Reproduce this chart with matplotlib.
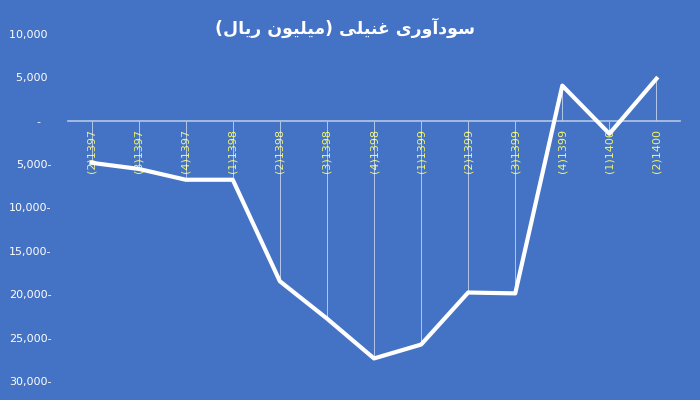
import matplotlib
matplotlib.use('Agg')
from matplotlib import pyplot as plt
from matplotlib.ticker import FuncFormatter
import numpy as np

quarters = ['(2)1397', '(3)1397', '(4)1397', '(1)1398', '(2)1398', '(3)1398', '(4)1398',
            '(1)1399', '(2)1399', '(3)1399', '(4)1399', '(1)1400', '(2)1400']
profit = [-4850, -5550, -6800, -6800, -18500, -22800, -27400,
          -25800, -19800, -19900, 4050, -1500, 4850]
yticks = [10000, 5000, 0, -5000, -10000, -15000, -20000, -25000, -30000]
title = 'سودآوری غنیلی (میلیون ریال)'

# simple arabic shaping (matplotlib has no bidi / shaping)
forms = {
    'ا': ('\uFE8D', '\uFE8E', None, None),
    'آ': ('\uFE81', '\uFE82', None, None),
    'د': ('\uFEA9', '\uFEAA', None, None),
    'ر': ('\uFEAD', '\uFEAE', None, None),
    'و': ('\uFEED', '\uFEEE', None, None),
    'س': ('\uFEB1', '\uFEB2', '\uFEB3', '\uFEB4'),
    'غ': ('\uFECD', '\uFECE', '\uFECF', '\uFED0'),
    'ن': ('\uFEE5', '\uFEE6', '\uFEE7', '\uFEE8'),
    'ل': ('\uFEDD', '\uFEDE', '\uFEDF', '\uFEE0'),
    'م': ('\uFEE1', '\uFEE2', '\uFEE3', '\uFEE4'),
    'ی': ('\uFEEF', '\uFEF0', '\uFEF3', '\uFEF4'),
}


def shape(s):
    out = []
    for i, c in enumerate(s):
        if c not in forms:
            out.append(c)
            continue
        prev = s[i - 1] if i > 0 else ''
        nxt = s[i + 1] if i + 1 < len(s) else ''
        pj = prev in forms and forms[prev][2] is not None
        nj = forms[c][2] is not None and nxt in forms
        if pj and nj:
            out.append(forms[c][3])
        elif pj:
            out.append(forms[c][1])
        elif nj:
            out.append(forms[c][2])
        else:
            out.append(forms[c][0])
    vis = ''.join(out)[::-1]
    return vis.translate(str.maketrans('()', ')('))


bg = '#4472C4'
fig = plt.figure(figsize=(7, 4), dpi=100, facecolor=bg)
ax = fig.add_axes([68 / 700, 1 - 381 / 400, 612 / 700, 347 / 400])
ax.set_facecolor(bg)

for s in ['top', 'right', 'left']:
    ax.spines[s].set_visible(False)
ax.spines['bottom'].set_position(('data', 0))
ax.spines['bottom'].set_color('#B4C7E7')
ax.spines['bottom'].set_linewidth(1.2)

x = np.arange(len(quarters))
ax.vlines(x, 0, profit, colors='white', linewidth=0.7, alpha=0.6, zorder=2)
ax.plot(x, profit, color='white', linewidth=3, zorder=3)

ax.set_xlim(-0.5, len(quarters) - 0.5)
ax.set_ylim(-30000, 10000)
ax.set_yticks(yticks)


def fmt(v, pos):
    if v == 0:
        return '-   '
    if v < 0:
        return '{:,.0f}-'.format(-v)
    return '{:,.0f} '.format(v)


ax.yaxis.set_major_formatter(FuncFormatter(fmt))
ax.set_xticks(x)
ax.set_xticklabels(quarters)
ax.tick_params(axis='x', length=0, pad=6, labelrotation=90, labelcolor='#F2F56A', labelsize=8)
ax.tick_params(axis='y', length=0, pad=12, labelcolor='white', labelsize=8)

fig.text(345 / 700, 1 - 28 / 400, shape(title), color='white', fontsize=12.5,
         fontweight='bold', ha='center', va='center', family='DejaVu Sans')

fig.savefig('out.png', dpi=100, facecolor=bg)
